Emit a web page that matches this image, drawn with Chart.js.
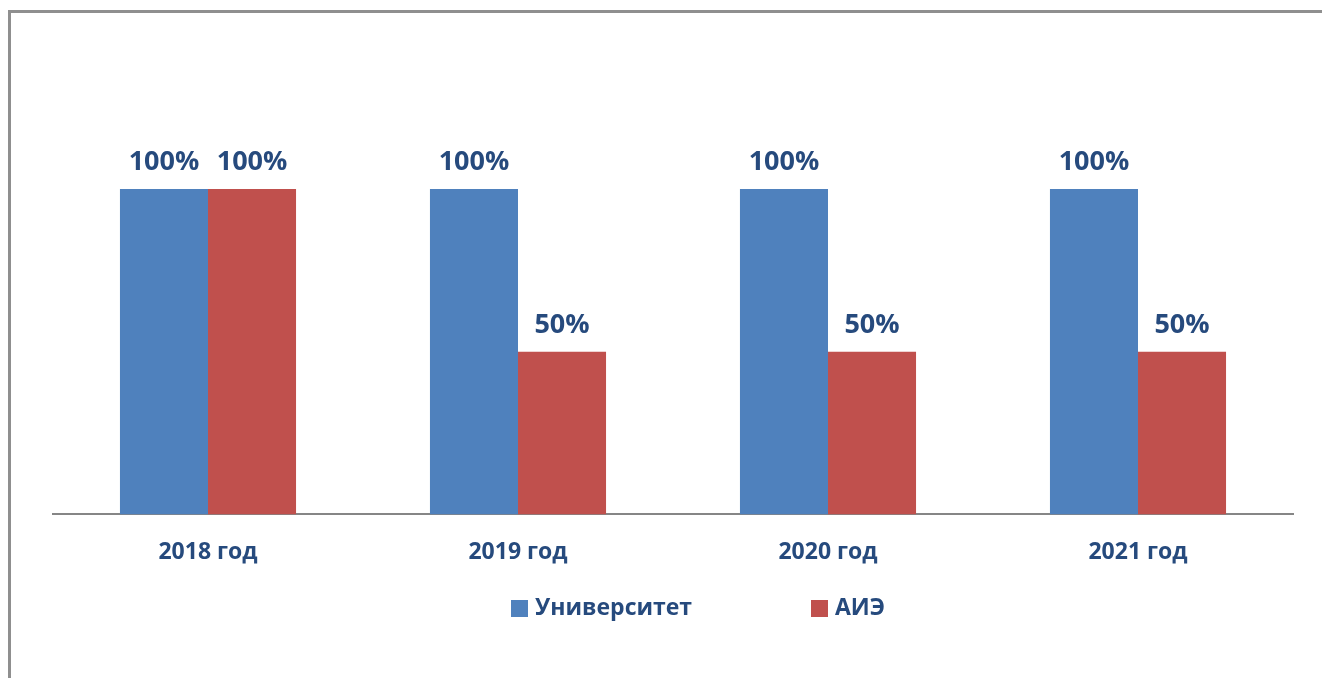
<!DOCTYPE html>
<html>
<head>
<meta charset="utf-8">
<script src="https://cdn.jsdelivr.net/npm/chart.js@4.4.0/dist/chart.umd.min.js"></script>
<style>
    html, body { margin: 0; padding: 0; background: #fff; }
    .wrap { position: relative; width: 1322px; height: 678px; }
    .frame { position: absolute; left: 8px; top: 10px; right: 0; bottom: 0; border-left: 3px solid #8f8f8f; border-top: 3px solid #8f8f8f; }
    canvas { position: absolute; left: 0; top: 0; }
</style>
</head>
<body>
<div class="wrap">
    <div class="frame"></div>
    <canvas id="chart" width="1322" height="678"></canvas>
</div>
<script>
// chart data
const years = ['2018 год', '2019 год', '2020 год', '2021 год'];
const universityValues = [100, 100, 100, 100];
const aieValues = [100, 50, 50, 50];
const seriesNames = ['Университет', 'АИЭ'];
const seriesColors = ['#4F81BD', '#C0504D'];

const textColor = '#264a7d';
const fontFamily = '"Open Sans", "Noto Sans", sans-serif';

// value labels above bars
const barLabels = {
    id: 'barLabels',
    afterDatasetsDraw(chart) {
        const ctx = chart.ctx;
        ctx.save();
        ctx.fillStyle = textColor;
        ctx.font = 'bold 27px ' + fontFamily;
        ctx.textAlign = 'center';
        ctx.textBaseline = 'bottom';
        chart.data.datasets.forEach((ds, i) => {
            chart.getDatasetMeta(i).data.forEach((bar, j) => {
                ctx.fillText(ds.data[j] + '%', bar.x, bar.y - 13);
            });
        });
        ctx.restore();
    }
};

// legend at the bottom, drawn by hand to match spacing
const bottomLegend = {
    id: 'bottomLegend',
    afterDraw(chart) {
        const ctx = chart.ctx;
        const starts = [511, 811];
        const y = 608;
        ctx.save();
        ctx.font = 'bold 23px ' + fontFamily;
        ctx.textBaseline = 'middle';
        ctx.textAlign = 'left';
        chart.data.datasets.forEach((ds, i) => {
            ctx.fillStyle = ds.backgroundColor;
            ctx.fillRect(starts[i], y - 8, 17, 17);
            ctx.fillStyle = textColor;
            ctx.fillText(ds.label, starts[i] + 24, y);
        });
        ctx.restore();
    }
};

new Chart(document.getElementById('chart'), {
    type: 'bar',
    data: {
        labels: years,
        datasets: [
            { label: seriesNames[0], data: universityValues, backgroundColor: seriesColors[0] },
            { label: seriesNames[1], data: aieValues, backgroundColor: seriesColors[1] }
        ]
    },
    options: {
        responsive: false,
        animation: false,
        layout: { padding: { left: 53, right: 29, top: 124, bottom: 88 } },
        datasets: { bar: { categoryPercentage: 0.568, barPercentage: 1 } },
        plugins: { legend: { display: false }, tooltip: { enabled: false } },
        scales: {
            x: {
                grid: { display: false, drawTicks: false },
                border: { display: true, color: '#868686', width: 2 },
                ticks: { color: textColor, font: { family: fontFamily, size: 23, weight: 'bold' }, padding: 24 }
            },
            y: { display: false, min: 0, max: 120 }
        }
    },
    plugins: [barLabels, bottomLegend]
});
</script>
</body>
</html>
